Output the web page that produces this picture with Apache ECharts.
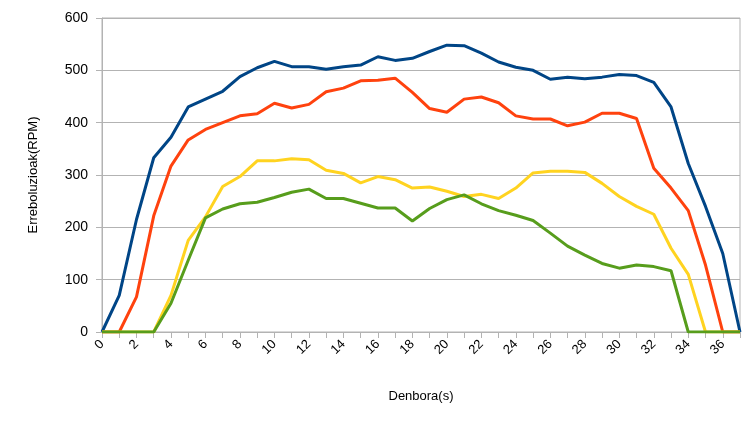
<!DOCTYPE html>
<html>
<head>
<meta charset="utf-8">
<script src="https://cdn.jsdelivr.net/npm/echarts@6/dist/echarts.min.js"></script>
<style>html,body{margin:0;padding:0;background:#fff}#main{width:756px;height:425px}</style>
</head>
<body>
<div id="main"></div>
<script>
var times = [];
for (var i = 0; i <= 37; i++) times.push(String(i));

var blue = [0,70,215,333,372,430,445,460,488,505,517,507,507,502,507,510,526,519,523,536,548,547,533,516,506,500,483,487,484,487,492,490,477,430,322,240,150,0];
var red = [0,0,67,222,317,367,387,400,413,417,437,428,435,459,466,480,481,485,458,427,420,445,449,438,413,407,407,394,401,418,418,408,313,275,232,128,0,0];
var yellow = [0,0,0,0,70,175,220,278,297,327,327,331,329,309,303,285,297,291,275,277,269,259,263,255,275,304,307,307,305,284,259,240,225,160,110,0,0,0];
var green = [0,0,0,0,55,137,218,235,245,248,257,267,273,255,255,246,237,237,212,236,253,262,245,232,223,213,189,164,147,131,122,128,125,117,0,0,0,0];

var myChart = echarts.init(document.getElementById('main'));

function line(name, data, color) {
    return { name: name, type: 'line', data: data, symbol: 'none',
             lineStyle: { color: color, width: 3 }, itemStyle: { color: color } };
}

var option = {
    animation: false,
    grid: { left: 102, right: 16, top: 18, bottom: 93, show: true, borderColor: '#b3b3b3', borderWidth: 1 },
    xAxis: {
        type: 'category', data: times, boundaryGap: false,
        name: 'Denbora(s)', nameLocation: 'middle', nameGap: 58,
        nameTextStyle: { fontFamily: 'Liberation Sans', fontSize: 13, color: '#000' },
        axisLine: { lineStyle: { color: '#b3b3b3' } },
        axisTick: { show: true, interval: 0, length: 6, lineStyle: { color: '#b3b3b3' } },
        axisLabel: { interval: 1, rotate: 45, fontFamily: 'Liberation Sans', fontSize: 13, color: '#000', margin: 10 },
        splitLine: { show: false }
    },
    yAxis: {
        type: 'value', min: 0, max: 600, interval: 100,
        name: 'Erreboluzioak(RPM)', nameLocation: 'middle', nameGap: 62,
        nameTextStyle: { fontFamily: 'Liberation Sans', fontSize: 13, color: '#000' },
        axisLine: { show: true, lineStyle: { color: '#b3b3b3' } },
        axisTick: { show: true, length: 6, lineStyle: { color: '#b3b3b3' } },
        axisLabel: { fontFamily: 'Liberation Sans', fontSize: 14, color: '#000', margin: 14 },
        splitLine: { lineStyle: { color: '#b3b3b3' } }
    },
    series: [
        line('1', blue, '#004586'),
        line('2', red, '#ff420e'),
        line('3', yellow, '#ffd320'),
        line('4', green, '#579d1c')
    ]
};

myChart.setOption(option);
</script>
</body>
</html>
